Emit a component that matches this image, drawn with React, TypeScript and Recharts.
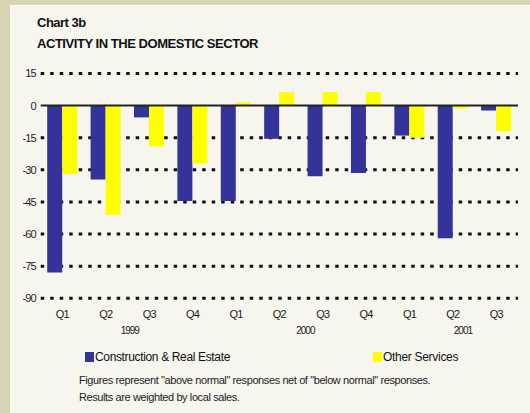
import { BarChart, Bar, XAxis, YAxis, CartesianGrid, ReferenceLine } from "recharts";

const quarters = ["Q1", "Q2", "Q3", "Q4", "Q1", "Q2", "Q3", "Q4", "Q1", "Q2", "Q3"];
const years = ["", "1999", "", "", "", "2000", "", "", "", "2001", ""];
const construction = [-78, -34.5, -5.5, -44.5, -44.5, -15.5, -33, -31.5, -14, -62, -2.3];
const otherServices = [-32, -51, -19, -27, 1.5, 6.3, 6.3, 6.3, -15, -1.3, -12];
const yTicks = [15, 0, -15, -30, -45, -60, -75, -90];
const seriesNames = ["Construction & Real Estate", "Other Services"];
const seriesColors = ["#333399", "#FFFF00"];

const data = quarters.map((q, i) => ({
  key: i,
  quarter: q,
  year: years[i],
  construction: construction[i],
  other: otherServices[i],
}));

const font = '"Liberation Sans", Arial, sans-serif';

// year labels sit a bit right of their quarter
const yearDx: Record<string, number> = { "1999": 24, "2000": 26, "2001": 10 };

function QuarterTick(props: any) {
  const { x, y, payload } = props;
  const row = data[payload.index];
  return (
    <g>
      <text x={x} y={y + 20} textAnchor="middle" fontSize={11} fill="#222" letterSpacing={-0.8} fontFamily={font}>
        {row.quarter}
      </text>
      {row.year && (
        <text x={x + (yearDx[row.year] || 0)} y={y + 36} textAnchor="middle" fontSize={10} fill="#222" letterSpacing={-1} fontFamily={font}>
          {row.year}
        </text>
      )}
    </g>
  );
}

export default function App() {
  return (
    <div style={{ position: "absolute", left: 0, top: 0, width: 530, height: 413, background: "#D6D4B2", overflow: "hidden", fontFamily: font }}>
      <div style={{ position: "absolute", left: 10, top: 5, width: 520, height: 408, background: "#F6F6EF", borderLeft: "1px solid #FBFBF6", borderTop: "1px solid #FBFBF6" }} />
      <div style={{ position: "absolute", left: 37, top: 15, fontSize: 13, fontWeight: "bold", letterSpacing: -0.5, color: "#111", lineHeight: "16px" }}>
        Chart 3b
      </div>
      <div style={{ position: "absolute", left: 37, top: 36, fontSize: 13, fontWeight: "bold", letterSpacing: -0.45, color: "#111", lineHeight: "16px" }}>
        ACTIVITY IN THE DOMESTIC SECTOR
      </div>
      <div style={{ position: "absolute", left: 0, top: 0 }}>
        <BarChart
          width={530}
          height={413}
          data={data}
          margin={{ top: 73.5, right: 12, left: 10.7, bottom: 84.7 }}
          barCategoryGap="15%"
          barGap={0}
        >
          <CartesianGrid
            vertical={false}
            horizontalValues={yTicks.filter((t) => t !== 0)}
            stroke="#111"
            strokeWidth={3}
            strokeDasharray="3.5 6"
          />
          <XAxis dataKey="key" axisLine={false} tickLine={false} tickSize={0} tickMargin={0} interval={0} tick={<QuarterTick />} height={30} />
          <YAxis
            domain={[-90, 15]}
            ticks={yTicks}
            axisLine={false}
            tickLine={false}
            tickSize={0}
            tickMargin={5}
            width={30}
            interval={0}
            tick={{ fill: "#222", fontSize: 11, letterSpacing: -0.9, fontFamily: font }}
          />
          <Bar dataKey="construction" fill={seriesColors[0]} isAnimationActive={false} />
          <Bar dataKey="other" fill={seriesColors[1]} isAnimationActive={false} />
          <ReferenceLine y={0} stroke="#222" strokeWidth={2} />
        </BarChart>
      </div>
      <div style={{ position: "absolute", left: 85, top: 350, display: "flex", alignItems: "center", fontSize: 12, letterSpacing: -0.35, color: "#111" }}>
        <span style={{ width: 9, height: 10, background: seriesColors[0], display: "inline-block", marginRight: 1 }} />
        <span>{seriesNames[0]}</span>
      </div>
      <div style={{ position: "absolute", left: 373, top: 350, display: "flex", alignItems: "center", fontSize: 12, letterSpacing: -0.3, color: "#111" }}>
        <span style={{ width: 9, height: 10, background: seriesColors[1], display: "inline-block", marginRight: 1 }} />
        <span>{seriesNames[1]}</span>
      </div>
      <div style={{ position: "absolute", left: 79, top: 372, fontSize: 11, letterSpacing: -0.4, color: "#222", lineHeight: "17px" }}>
        Figures represent "above normal" responses net of "below normal" responses.
        <br />
        Results are weighted by local sales.
      </div>
    </div>
  );
}
